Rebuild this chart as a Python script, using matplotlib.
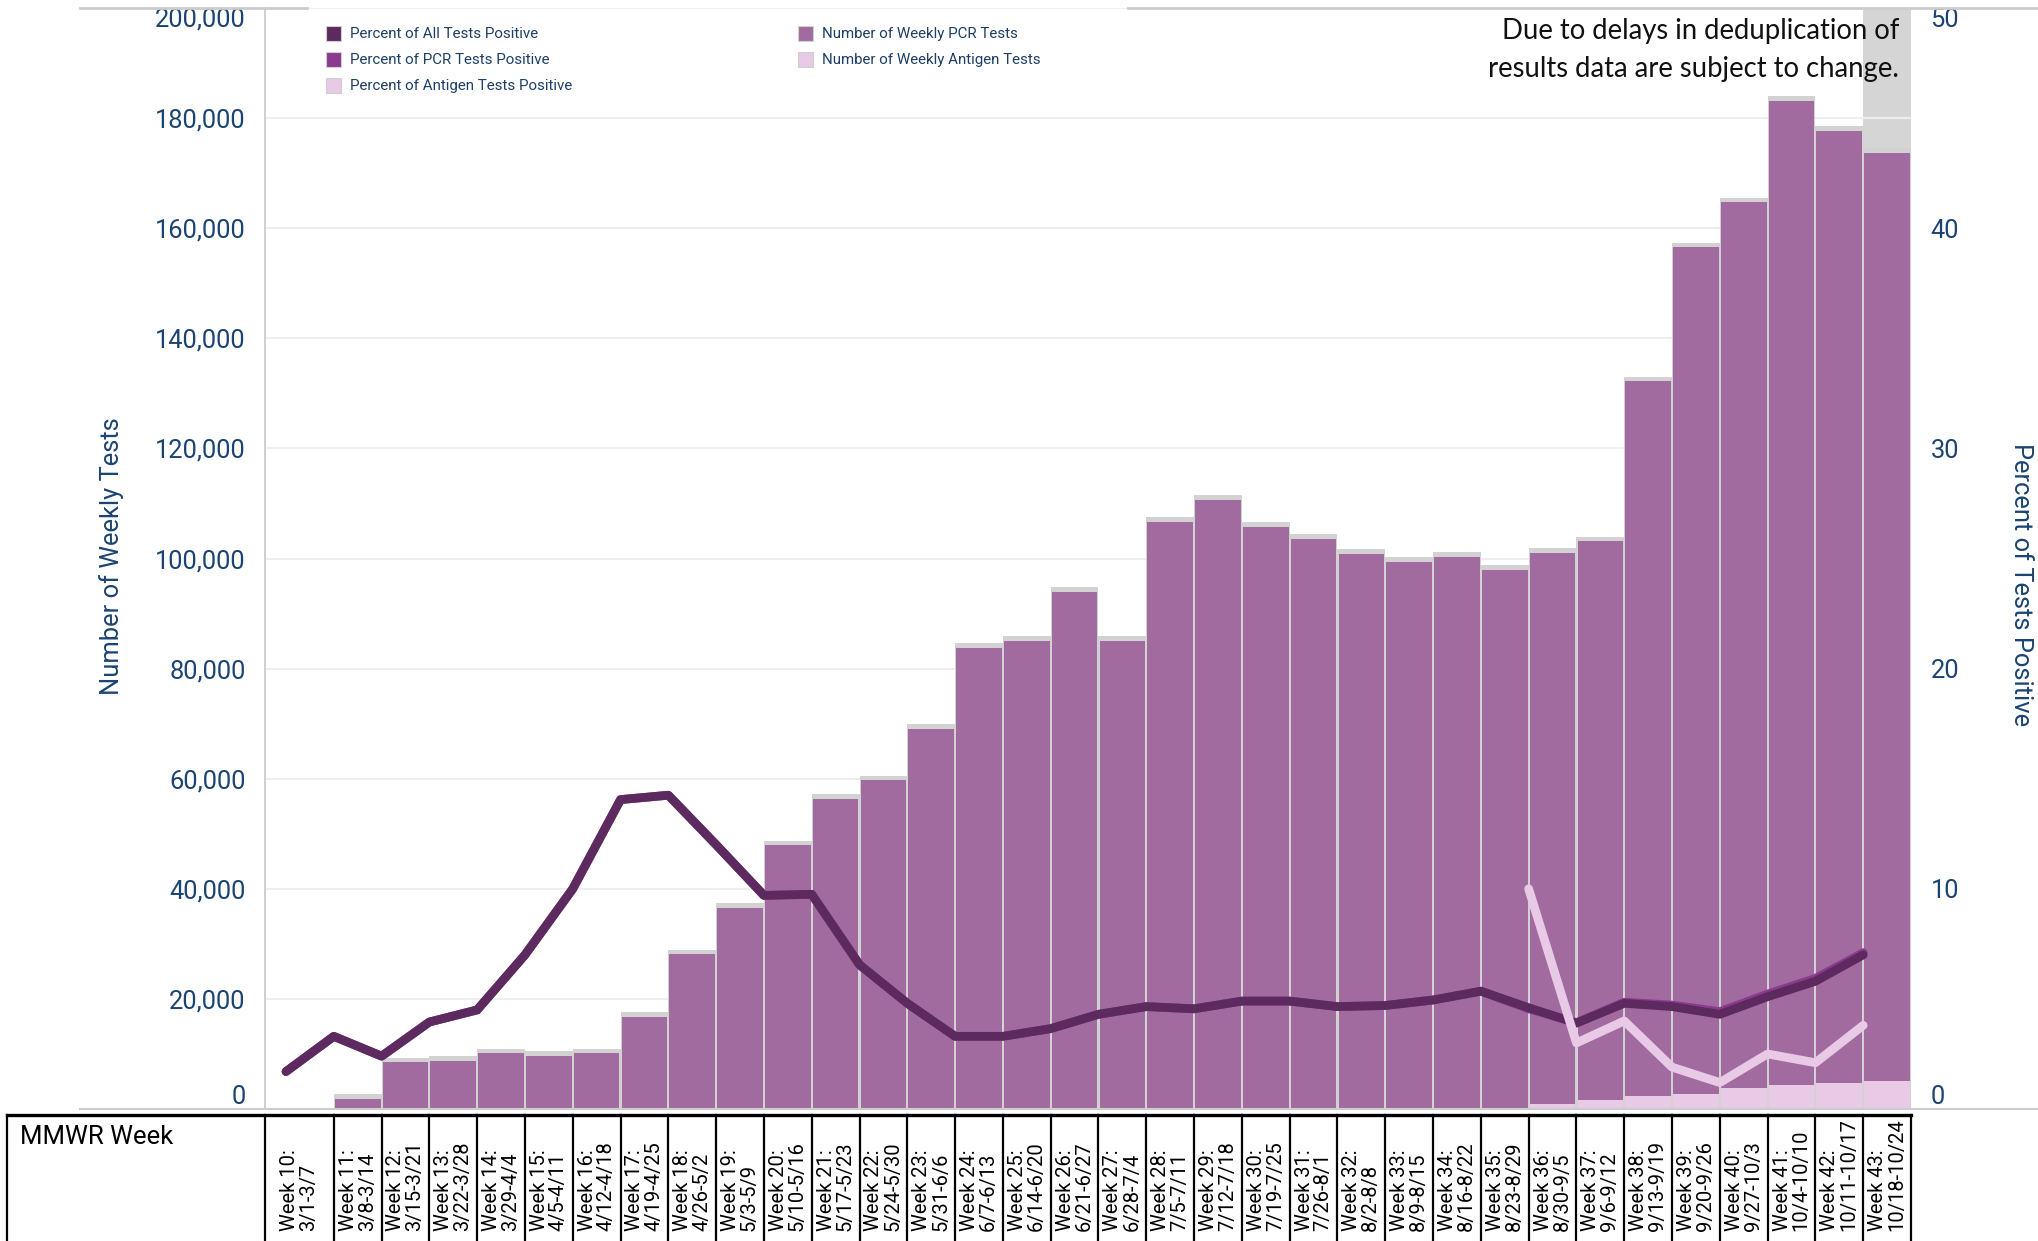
import numpy as np
import matplotlib
matplotlib.use("Agg")
import matplotlib.pyplot as plt
from matplotlib.patches import Rectangle
from matplotlib.lines import Line2D
from matplotlib.transforms import blended_transform_factory

# MMWR weeks 10..43
weeks = list(range(10, 44))
week_dates = ["3/1-3/7", "3/8-3/14", "3/15-3/21", "3/22-3/28", "3/29-4/4",
              "4/5-4/11", "4/12-4/18", "4/19-4/25", "4/26-5/2", "5/3-5/9",
              "5/10-5/16", "5/17-5/23", "5/24-5/30", "5/31-6/6", "6/7-6/13",
              "6/14-6/20", "6/21-6/27", "6/28-7/4", "7/5-7/11", "7/12-7/18",
              "7/19-7/25", "7/26-8/1", "8/2-8/8", "8/9-8/15", "8/16-8/22",
              "8/23-8/29", "8/30-9/5", "9/6-9/12", "9/13-9/19", "9/20-9/26",
              "9/27-10/3", "10/4-10/10", "10/11-10/17", "10/18-10/24"]

pcr_tests = [0, 1800, 8500, 8700, 10100, 9700, 10100, 16800, 28100, 36600,
             47900, 56400, 59700, 69100, 83800, 85000, 93900, 85000, 106700, 110700,
             105700, 103600, 100800, 99400, 100300, 97900, 100150, 101500, 129800, 153700,
             160800, 178800, 173000, 168600]
antigen_tests = [0] * 26 + [850, 1600, 2400, 2800, 3900, 4300, 4700, 5100]

pct_all = [1.7, 3.3, 2.4, 3.95, 4.5, 7.0, 10.0, 14.05, 14.25, 12.0,
           9.7, 9.75, 6.55, 4.8, 3.3, 3.3, 3.65, 4.3, 4.65, 4.55,
           4.9, 4.9, 4.65, 4.7, 4.95, 5.35, 4.6, 3.9, 4.8, 4.65,
           4.3, 5.1, 5.8, 7.0]
pct_pcr = pct_all[:26] + [4.55, 3.92, 4.85, 4.72, 4.42, 5.22, 5.93, 7.1]
pct_antigen = [10.0, 3.0, 4.0, 1.9, 1.2, 2.5, 2.1, 3.8]   # weeks 36..43

C_ALL = "#5d2a5f"
C_PCR_PCT = "#8c3a8e"
C_AG = "#e8c9e6"
C_PCR_BAR = "#a26ba0"
C_CAP = "#d2d2d2"
NAVY = "#1b4472"
NARROW = ["Liberation Sans Narrow", "Roboto", "DejaVu Sans"]

W, H = 2038, 1241
fig = plt.figure(figsize=(W / 100, H / 100), dpi=100)

ax_l, ax_r, ax_b, ax_t = 265 / W, 1911 / W, 1 - 1109 / H, 1 - 8 / H
ax = fig.add_axes([ax_l, ax_b, ax_r - ax_l, ax_t - ax_b])

x = np.arange(len(weeks))
pcr = np.array(pcr_tests)
ag = np.array(antigen_tests)
total = pcr + ag
cap = 850

# incomplete last week
ax.axvspan(x[-1], x[-1] + 1, color="#d5d5d5", zorder=0.3, lw=0)
ax.bar(x + 0.5, np.where(total > 0, total + cap, 0), width=1.0, color=C_CAP, lw=0, zorder=1)
ax.bar(x + 0.5, ag, width=0.955, color=C_AG, lw=0, zorder=2)
ax.bar(x + 0.5, pcr, bottom=ag, width=0.955, color=C_PCR_BAR, lw=0, zorder=2)

x0 = (286 - 265) / 47.8
ax.set_xlim(-x0, len(weeks))
ax.set_ylim(0, 200000)
ax.set_axisbelow(True)
ax.yaxis.grid(True, color="#eeeeee", lw=1.5, zorder=0.5)
ax.set_xticks([])
yt = np.arange(0, 200001, 20000)
ax.set_yticks(yt)
ax.set_yticklabels([f"{v:,}" for v in yt], fontsize=18.4, color=NAVY, family=NARROW)
ax.tick_params(axis="y", length=0, pad=14)
labs = ax.get_yticklabels()
labs[0].set_va("bottom")
labs[-1].set_va("top")
for s in ["top", "right", "bottom"]:
    ax.spines[s].set_visible(False)
ax.spines["left"].set_color("#cccccc")
ax.spines["left"].set_linewidth(1.3)

ax2 = ax.twinx()
ax2.set_ylim(0, 50)
line_kw = dict(lw=6.3, solid_capstyle="round", solid_joinstyle="round")
ax2.plot(x, pct_pcr, color=C_PCR_PCT, zorder=3, **line_kw)
ax2.plot(x, pct_all, color=C_ALL, zorder=4, **line_kw)
ax2.plot(x[26:], pct_antigen, color=C_AG, zorder=5, **line_kw)
ax2.set_yticks(range(0, 51, 10))
ax2.set_yticklabels([str(v) for v in range(0, 51, 10)], fontsize=18.4, color=NAVY, family=NARROW)
ax2.tick_params(axis="y", length=0, pad=14)
labs2 = ax2.get_yticklabels()
labs2[0].set_va("bottom")
labs2[-1].set_va("top")
for s in ax2.spines.values():
    s.set_visible(False)

fig.text(112 / W, 1 - 556 / H, "Number of Weekly Tests", rotation=90, ha="center", va="center",
         fontsize=18.4, color=NAVY, family=NARROW)
fig.text(2021 / W, 1 - 585 / H, "Percent of Tests Positive", rotation=270, ha="center", va="center",
         fontsize=18.4, color=NAVY, family=NARROW)

fig.text(1899 / W, 1 - 31 / H, "Due to delays in deduplication of", ha="right", va="center",
         fontsize=19.8, family=["Lato", "DejaVu Sans"], color="#111111")
fig.text(1899 / W, 1 - 69 / H, "results data are subject to change.", ha="right", va="center",
         fontsize=19.8, family=["Lato", "DejaVu Sans"], color="#111111")

# legend
legend_items = [
    (326, 34, C_ALL, "Percent of All Tests Positive"),
    (326, 60, C_PCR_PCT, "Percent of PCR Tests Positive"),
    (326, 86, C_AG, "Percent of Antigen Tests Positive"),
    (798, 34, C_PCR_BAR, "Number of Weekly PCR Tests"),
    (798, 60, C_AG, "Number of Weekly Antigen Tests"),
]
for lx, ly, col, txt in legend_items:
    fig.add_artist(Rectangle((lx / W, 1 - (ly + 7) / H), 15 / W, 15 / H, transform=fig.transFigure,
                             facecolor=col, edgecolor="#d0d0d0", lw=0.8))
    fig.text((lx + 24) / W, 1 - ly / H, txt, ha="left", va="center", fontsize=10.9,
             color="#1e3f66", family=NARROW)

# frame lines
base_y = 1 - 1109 / H
fig.add_artist(Line2D([80 / W, 1], [base_y, base_y], color="#cccccc", lw=1.5, transform=fig.transFigure))
top_y = 1 - 8 / H
fig.add_artist(Line2D([80 / W, 307 / W], [top_y, top_y], color="#cccccc", lw=2, transform=fig.transFigure))
fig.add_artist(Line2D([1128 / W, 1], [top_y, top_y], color="#cccccc", lw=2, transform=fig.transFigure))

# MMWR week table
tab_top = 1 - 1115 / H
fig.add_artist(Line2D([7 / W, ax_r], [tab_top, tab_top], color="black", lw=2.4, transform=fig.transFigure))
for fx in [7 / W, ax_l]:
    fig.add_artist(Line2D([fx, fx], [0, tab_top], color="black", lw=1.6, transform=fig.transFigure))
trans = blended_transform_factory(ax.transData, fig.transFigure)
for k in range(1, len(weeks) + 1):
    ax.add_artist(Line2D([k, k], [0, tab_top], color="black", lw=1.6, transform=trans, clip_on=False))
fig.text(20 / W, 1 - 1137 / H, "MMWR Week", ha="left", va="center", fontsize=18.5, family=NARROW, color="black")
for i, (w, d) in enumerate(zip(weeks, week_dates)):
    cx = (-x0 + 1) / 2 if i == 0 else i + 0.5
    ax.text(cx, 10 / H, f"Week {w}:\n{d}", transform=trans, rotation=90, ha="center", va="bottom",
            multialignment="left", fontsize=14.5, linespacing=1.0, color="black",
            family=NARROW, clip_on=False)

fig.savefig("out.png", dpi=100)
